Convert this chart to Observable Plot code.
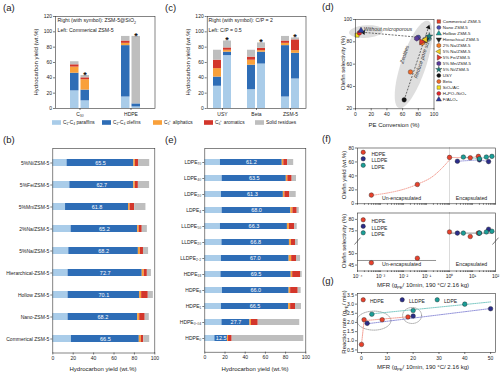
<!DOCTYPE html>
<html><head><meta charset="utf-8">
<script src="https://cdn.jsdelivr.net/npm/d3@7"></script>
<script src="https://cdn.jsdelivr.net/npm/@observablehq/plot@0.6"></script>
<style>
html,body{margin:0;padding:0;background:#fff;}
#fig{position:relative;width:500px;height:373px;overflow:hidden;background:#fff;}
#fig svg{position:absolute;left:0;top:0;}
[aria-label$="-axis tick"]{stroke-width:0.6px;}
</style></head><body><div id="fig"></div>
<script>
// ---------------- data ----------------
const comps = ["C₁-C₄ paraffins","C₂-C₄ olefins","C₅⁺ aliphatics","C₆⁺ aromatics","Solid residues"];
const compColors = ["#a9cce9","#2e6db6","#f9a03a","#d3362b","#bebebe"];

const aCats = ["C₃₀","HDPE"];
const aLeft  = [[23,23,8,3,4],[15,67,3,3,6]];
const aRight = [[10,14,13.5,2.5,3],[2,4,0,0,88]];

const cCats = ["USY","Beta","ZSM-5"];
const cLeft  = [[29,12,11,11,13],[24.5,32,6.5,4,9],[15,67,3,3,6]];
const cRight = [[69,4.5,2.5,3,9],[58,15.5,2,3,7],[38.5,33.5,3.5,14,2.5]];

const bCats = ["5%Ni/ZSM-5","5%Fe/ZSM-5","5%Mn/ZSM-5","2%Na/ZSM-5","5%Na/ZSM-5","Hierarchical-ZSM-5","Hollow ZSM-5","Nano-ZSM-5","Commerical ZSM-5"];
const bVals = [
  [14,65.5,1.5,3,11],
  [16.7,62.7,1.5,3,11],
  [12.5,61.8,1.5,4.5,11],
  [18,65.2,1.5,3,5],
  [15.7,68.2,2,3,5],
  [15,72.7,2,3,4],
  [15,70.1,2,6.5,5],
  [15,68.2,2,5.4,4],
  [18.3,66.5,2,2.4,5.8]
];

const eCats = ["LDPE₇₀","LDPE₄₀","LDPE₂₀","LDPE₄","LLDPE₅₀","LLDPE₂₀","LLDPE₂.₂","HDPE₁₈","HDPE₈","HDPE₁","HDPE₀.₀₄","HDPE₀"];
const eVals = [
  [15.5,61.2,1.5,3.8,6],
  [17.2,63.5,1.5,4.3,4.3],
  [16.5,61.3,1.5,4.9,6.3],
  [17.2,68.0,2,4.3,2],
  [15.5,66.3,2,5.3,2.4],
  [17,66.8,2,4,2.7],
  [16.5,67.0,2.5,4.8,4],
  [16,69.5,1.5,7.8,1.6],
  [17.5,66.0,1.5,7.5,2.9],
  [16.5,66.5,2,4.8,5.9],
  [17,27.7,1.5,6.7,41.1],
  [10,12.5,1,3.6,70.9]
];

const dNames = ["Commerical ZSM-5","Nano ZSM-5","Hollow ZSM-5","Hierachical ZSM-5","2% Na/ZSM-5","5% Na/ZSM-5","5% Fe/ZSM-5","5% Mn/ZSM-5","5% Ni/ZSM-5","USY","Beta","SiO₂/AC","H₃PO₄/SiO₂","F/Al₂O₃"];
const dConv = [88,80,92,90,85,89,84,78,94,62,70,2,5,7];
const dSel  = [81,84,83,82,79,82,80,83,85,28,53,86,88,90];
const dSymbols = ["square","circle","triangle","triangle","hexagon","triangle","triangle","hexagon","star","circle","circle","square","circle","triangle"];
const dRotate  = [0,0,0,180,0,-90,90,0,0,0,0,0,0,0];
const dColors  = ["#e8432b","#4a4db0","#1ba39c","#222222","#f47b20","#f2d01e","#e0352b","#5b3b9a","#1a7f7a","#111111","#ef6a2a","#f4e01c","#e3262b","#2c3a9e"];
const dArrows = [{x1:82,y1:84,x2:10,y2:88.5},{x1:62,y1:28,x2:93,y2:93}];
const dEllipses = [{cx:13.4,cy:89.2,a:17,b:6.3,ang:-4},{cx:73.9,cy:59.7,a:46,b:12.5,ang:-71.5}];
const dNotes = [
  {t:"Without microporous",x:10.5,y:91.5,rot:0,anchor:"start"},
  {t:"Zeolites",x:62.5,y:68.6,rot:-71.5,anchor:"middle"},
  {t:"Reduce pore size",x:84.8,y:65,rot:-71.5,anchor:"middle"}
];

const peSeries = ["HDPE","LLDPE","LDPE"];
const peColors = ["#e8412c","#2b2d8a","#1b9e97"];
const peLight  = ["#f08a7c","#7a7ad0","#5fbdb6"];
const fMFR   = [[0.0004,0.04,1,8,18],[2.2,20,50],[4,20,40,70]];
const fYield = [[12.5,27.7,66.5,66,68],[61,63,60.5],[67,64.6,67,68]];
const fSel   = [[46,48,74.5,72.5,74],[74,74,75.7],[74,74,74.5,74.8]];
const fYieldTrendX = [0.0004,0.04,0.2,0.5,1];
const fYieldTrendY = [12,28,40,52,63];
const fSelUnX = [1e-4,0.25], fSelUnY = [47,47];
const fSelEnX = [1,80],     fSelEnY = [74,74];
const fSelTicks = [45,50,75,80];

const gMFR  = [[0,1,8,18],[2.2,20,50],[4,20,40]];
const gRate = [[0.8,2.15,2.15,2.3],[1.95,2.35,2.75],[2.45,2.65,3.0]];
const gTrendX = [[0,1,20],[2.2,50],[4,50]];
const gTrendY = [[0.8,2.1,2.33],[1.93,2.76],[2.47,3.12]];
const gEllipses = [{cx:4.8,cy:2.1,a:17,b:9.5,ang:0},{cx:19.6,cy:2.38,a:9.5,b:8,ang:0}];

// ---------------- helpers ----------------
const FONT = '"Liberation Sans", Arial, Helvetica, sans-serif';
const W = 500, H = 373;
const fig = document.getElementById("fig");
const base = (fr, o) => Object.assign({
  width: W, height: H,
  marginLeft: fr[0], marginRight: W - fr[1], marginTop: fr[2], marginBottom: H - fr[3],
  style: {background: "transparent", fontFamily: FONT, fontSize: "5px", color: "#222", overflow: "visible"}
}, o);
const put = p => fig.appendChild(p);
const ax = {label: null, tickSize: 2, tickPadding: 1.5};
const frame = () => Plot.frame({stroke: "#333", strokeWidth: 0.6});
const long = (cats, vals) => cats.flatMap((c, i) => comps.map((k, j) => ({cat: c, comp: k, value: vals[i][j]})));
const color = {domain: comps, range: compColors};
function ellipse(e, kx, ky) {
  const r = e.ang * Math.PI / 180;
  return d3.range(0, 73).map(i => {
    const t = i / 72 * 2 * Math.PI, px = e.a * Math.cos(t), py = e.b * Math.sin(t);
    const ex = px * Math.cos(r) - py * Math.sin(r), ey = px * Math.sin(r) + py * Math.cos(r);
    return {x: e.cx + ex / kx, y: e.cy - ey / ky};
  });
}
const supDigits = {"-":"⁻","0":"⁰","1":"¹","2":"²","3":"³","4":"⁴"};
const logLabel = d => { const l = Math.round(Math.log10(d)); return Math.abs(Math.log10(d) - l) < 1e-9 ? "10" + String(l).split("").map(c => supDigits[c]).join("") : ""; };
const logMajor = [1e-4,1e-3,1e-2,1e-1,1,10,100];
const logAll = logMajor.slice(0, -1).flatMap(p => d3.range(1, 10).map(k => k * p)).concat([100]);

// ---------------- (a) and (c) ----------------
function vPanel(fr, cats, left, right, pi, po, inset, starDx) {
  const tot = cats.map((c, i) => ({cat: c, total: d3.sum(right[i])}));
  put(Plot.plot(base(fr, {
    x: {...ax, type: "band", domain: cats, paddingInner: pi, paddingOuter: po},
    y: {...ax, domain: [0, 120], ticks: [0,20,40,60,80,100,120]},
    color,
    marks: [
      Plot.barY(long(cats, left), {x: "cat", y: "value", fill: "comp", insetRight: inset}),
      Plot.barY(long(cats, right), {x: "cat", y: "value", fill: "comp", insetLeft: inset}),
      Plot.text(tot, {x: "cat", y: "total", text: () => "*", dx: starDx, dy: -0.5, fontSize: 9, fontWeight: "bold", fill: "#111"}),
      frame()
    ]
  })));
}
vPanel([55, 154.5, 16, 108], aCats, aLeft, aRight, 0.62, 0.28, 10.5, 5);
vPanel([206.7, 305.5, 16, 108], cCats, cLeft, cRight, 0.465, 0.177, 10, 4.6);

// ---------------- (b) and (e) ----------------
function hPanel(fr, cats, vals, pi, po) {
  const L = long(cats, vals);
  put(Plot.plot(base(fr, {
    x: {...ax, domain: [0, 100], ticks: [0,20,40,60,80,100]},
    y: {...ax, type: "band", domain: cats, paddingInner: pi, paddingOuter: po},
    color,
    marks: [
      Plot.barX(L, {y: "cat", x: "value", fill: "comp"}),
      Plot.text(L, Plot.stackX({y: "cat", x: "value", text: d => d.comp === comps[1] ? d.value.toFixed(1) : "", fill: "white", fontSize: 5.5})),
      frame()
    ]
  })));
}
hPanel([52.3, 154.3, 148, 352.5], bCats, bVals, 0.68, 0.34);
hPanel([204.3, 305.3, 148, 351.7], eCats, eVals, 0.605, 0.3025);

// ---------------- (d) ----------------
const dFr = [355, 433.5, 19, 108.3];
const dkx = (dFr[1] - dFr[0]) / 100, dky = (dFr[3] - dFr[2]) / 80;
const dData = dNames.map((n, i) => ({n, x: dConv[i], y: dSel[i], s: dSymbols[i], r: dRotate[i], c: dColors[i]}));
put(Plot.plot(base(dFr, {
  x: {...ax, domain: [0, 100], ticks: [0,20,40,60,80,100]},
  y: {...ax, domain: [20, 100], ticks: [20,40,60,80,100]},
  marks: [
    ...dEllipses.map(e => Plot.line(ellipse(e, dkx, dky), {x: "x", y: "y", fill: "#dedede", stroke: "none"})),
    Plot.link(dArrows, {x1: "x1", y1: "y1", x2: "x2", y2: "y2", stroke: "#333", strokeWidth: 0.7, strokeDasharray: "2,1.3"}),
    ...dArrows.map(a => Plot.dot([a], {x: "x2", y: "y2", symbol: "triangle", r: 1.8, fill: "#111",
      rotate: Math.atan2((a.x2 - a.x1) * dkx, (a.y2 - a.y1) * dky) * 180 / Math.PI})),
    ...dNotes.map(n => Plot.text([n], {x: "x", y: "y", text: "t", rotate: n.rot, textAnchor: n.anchor, fontSize: 5.3, fontStyle: "italic", fill: "#333"})),
    ...dData.map(d => Plot.dot([d], {x: "x", y: "y", symbol: d.s, rotate: d.r, fill: d.c, stroke: "#222", strokeWidth: 0.35, r: 2.3})),
    frame()
  ]
})));
put(Plot.plot(base([436.3, 440.3, 20.7, 100], {
  y: {type: "point", domain: dNames, padding: 0, axis: null},
  marks: [
    ...dData.map(d => Plot.dot([d], {y: "n", symbol: d.s, rotate: d.r, fill: d.c, stroke: "#222", strokeWidth: 0.35, r: 2})),
    Plot.text(dData, {y: "n", text: "n", frameAnchor: "left", dx: 6, textAnchor: "start", fontSize: 4.4})
  ]
})));

// ---------------- (f) ----------------
const fPts = s => fMFR[s].map((m, i) => ({x: m, yld: fYield[s][i], sel: fSel[s][i]}));
const selT = v => v >= 60 ? v - 15 : v;
function fLegend(y0) {
  return peSeries.flatMap((s, i) => [
    Plot.dot([s], {frameAnchor: "top-left", dx: 5.7, dy: y0 + i * 6.5, r: 2.2, fill: peColors[i], stroke: "#222", strokeWidth: 0.4}),
    Plot.text([s], {frameAnchor: "top-left", dx: 14, dy: y0 + i * 6.5, text: d => d, textAnchor: "start", fontSize: 5})
  ]);
}
const zoneText = (dy) => [
  Plot.text(["Un-encapsulated"], {frameAnchor: "bottom-left", dx: 44, dy, text: d => d, textAnchor: "middle", fontSize: 5.2}),
  Plot.text(["Encapsulated"], {frameAnchor: "bottom-left", dx: 114, dy, text: d => d, textAnchor: "middle", fontSize: 5.2})
];
put(Plot.plot(base([357, 495, 147.5, 203.3], {
  x: {...ax, type: "log", domain: [1e-4, 100], ticks: logAll, tickFormat: () => "", tickSize: 1.5},
  y: {...ax, domain: [0, 80], ticks: [0,20,40,60,80]},
  marks: [
    Plot.ruleX([1], {stroke: "#888", strokeDasharray: "1,1", strokeWidth: 0.6}),
    Plot.line(fYieldTrendX.map((x, i) => ({x, y: fYieldTrendY[i]})), {x: "x", y: "y", stroke: "#f08a7c", strokeDasharray: "1,1.2", strokeWidth: 0.8, curve: "monotone-x"}),
    ...peSeries.map((s, i) => Plot.line(fPts(i).filter(p => p.x >= 1), {x: "x", y: "yld", stroke: peLight[i], strokeDasharray: "1,1", strokeWidth: 0.7})),
    ...peSeries.map((s, i) => Plot.dot(fPts(i), {x: "x", y: "yld", r: 2.3, fill: peColors[i], stroke: "#222", strokeWidth: 0.4})),
    ...zoneText(-4),
    ...fLegend(4.3),
    frame()
  ]
})));
put(Plot.plot(base([357, 495, 212.5, 270.5], {
  x: {...ax, type: "log", domain: [1e-4, 100], ticks: logAll, tickFormat: logLabel, tickSize: 1.5},
  y: {...ax, domain: [42.4, 67.8], ticks: fSelTicks.map(selT), tickFormat: d => d >= 55 ? d + 15 : d},
  marks: [
    Plot.ruleX([1], {stroke: "#888", strokeDasharray: "1,1", strokeWidth: 0.6}),
    Plot.line(fSelUnX.map((x, i) => ({x, y: selT(fSelUnY[i])})), {x: "x", y: "y", stroke: "#555", strokeDasharray: "1,1", strokeWidth: 0.7}),
    Plot.line(fSelEnX.map((x, i) => ({x, y: selT(fSelEnY[i])})), {x: "x", y: "y", stroke: "#555", strokeDasharray: "1,1", strokeWidth: 0.7}),
    ...peSeries.map((s, i) => Plot.dot(fPts(i), {x: "x", y: d => selT(d.sel), r: 2.3, fill: peColors[i], stroke: "#222", strokeWidth: 0.4})),
    Plot.link([1e-4, 100], {x1: d => d / 1.35, x2: d => d * 1.35, y1: 54, y2: 57, stroke: "#222", strokeWidth: 0.6}),
    ...zoneText(-5),
    ...fLegend(6.8),
    frame()
  ]
})));

// ---------------- (g) ----------------
const gFr = [357, 495, 293, 352];
const gDom = [-1.55, 51.9], gYDom = [0.36, 3.58];
const gkx = (gFr[1] - gFr[0]) / (gDom[1] - gDom[0]), gky = (gFr[3] - gFr[2]) / (gYDom[1] - gYDom[0]);
put(Plot.plot(base(gFr, {
  x: {...ax, domain: gDom, ticks: [0,10,20,30,40,50]},
  y: {...ax, domain: gYDom, ticks: [0.5,1,1.5,2,2.5,3,3.5], tickFormat: d3.format(".1f")},
  marks: [
    ...gEllipses.map(e => Plot.line(ellipse(e, gkx, gky), {x: "x", y: "y", stroke: "#777", strokeDasharray: "1,1", strokeWidth: 0.6})),
    ...peSeries.map((s, i) => Plot.line(gTrendX[i].map((x, j) => ({x, y: gTrendY[i][j]})), {x: "x", y: "y", stroke: peLight[i], strokeDasharray: "1.2,1", strokeWidth: 0.8})),
    ...peSeries.map((s, i) => Plot.dot(gMFR[i].map((x, j) => ({x, y: gRate[i][j]})), {x: "x", y: "y", r: 2.3, fill: peColors[i], stroke: "#222", strokeWidth: 0.4})),
    ...peSeries.flatMap((s, i) => [
      Plot.dot([s], {frameAnchor: "top-left", dx: [5.7, 44.7, 79.7][i], dy: 6.3, r: 2.2, fill: peColors[i], stroke: "#222", strokeWidth: 0.4}),
      Plot.text([s], {frameAnchor: "top-left", dx: [12.5, 51.5, 86.5][i], dy: 6.3, text: d => d, textAnchor: "start", fontSize: 5})
    ]),
    frame()
  ]
})));

// ---------------- titles, labels, legend ----------------
const ov = d3.select(fig).append("svg").attr("width", W).attr("height", H)
  .attr("font-family", FONT).attr("fill", "#222");
function T(parts, x, y, o = {}) {
  const size = o.size || 6;
  if (typeof parts === "string") parts = [[parts]];
  const t = ov.append("text").attr("font-size", size).attr("text-anchor", o.anchor || "middle")
    .attr("transform", `translate(${x},${y})${o.rot ? ` rotate(${o.rot})` : ""}`).attr("y", size * 0.35);
  if (o.italic) t.attr("font-style", "italic");
  let shift = 0;
  for (const [s, m] of parts) {
    const ts = t.append("tspan").text(s);
    const target = m === "sub" ? size * 0.3 : m === "sup" ? -size * 0.4 : 0;
    if (m) ts.attr("font-size", size * 0.7);
    if (target !== shift) ts.attr("dy", target - shift);
    shift = target;
  }
  return t;
}
[["(a)",3,8],["(b)",3,140],["(c)",165,8],["(d)",322,7],["(e)",165,140],["(f)",322,139],["(g)",322,281]]
  .forEach(([s, x, y]) => T(s, x, y, {anchor: "start", size: 9.5}));
T("Hydrocarbon yield (wt.%)", 36, 62, {rot: -90});
T("Hydrocarbon yield (wt.%)", 188, 62, {rot: -90});
T("Hydrocarbon yield (wt.%)", 103, 368.5);
T("Hydrocarbon yield (wt.%)", 255, 368.5);
T("Olefin selectivity (%)", 343, 63, {rot: -90});
T("PE Conversion (%)", 394, 125);
T("Olefin yield (wt.%)", 344, 175, {rot: -90});
T("Olefin selectivity (%)", 344, 241, {rot: -90});
T([["Reaction rate (g"],["PE","sub"],["/ min)"]], 344, 322, {rot: -90});
T([["MFR (g"],["PE","sub"],["/ 10min, 190 °C/ 2.16 kg)"]], 423, 285);
T([["MFR (g"],["PE","sub"],["/ 10min, 190 °C/ 2.16 kg)"]], 423, 367);
T([["Right (with symbol): ZSM-5@SiO"],["2","sub"]], 57.5, 20.5, {anchor: "start", size: 5.2});
T("Left: Commerical ZSM-5", 57.5, 30.5, {anchor: "start", size: 5.2});
T("Right (with symbol): C/P = 2", 208.5, 20.5, {anchor: "start", size: 5.2});
T("Left: C/P = 0.5", 208.5, 30.5, {anchor: "start", size: 5.2});
const legX = [52, 102, 153, 204, 255];
comps.forEach((c, i) => {
  ov.append("rect").attr("x", legX[i]).attr("y", 120.2).attr("width", 9).attr("height", 4.6).attr("fill", compColors[i]);
  T(c, legX[i] + 11, 122.5, {anchor: "start", size: 4.8});
});
</script></body></html>
